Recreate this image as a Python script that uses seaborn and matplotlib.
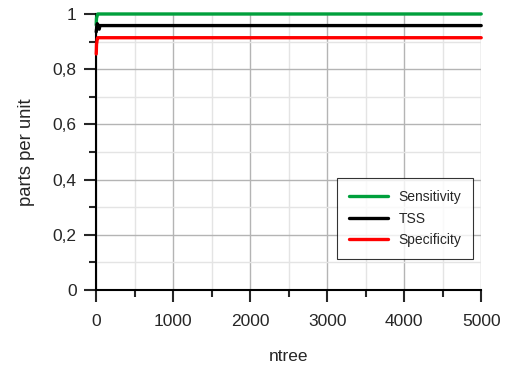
import numpy as np
import pandas as pd
import seaborn as sns
import matplotlib.pyplot as plt
from matplotlib.ticker import MultipleLocator, FuncFormatter

# values
ntree = [1, 3, 5, 10, 15, 20, 30, 40, 50, 100, 500, 1000, 2000, 3000, 4000, 5000]
sensitivity = [0.96, 0.975, 0.985, 0.99, 0.995, 1.0, 1.0, 1.0, 1.0, 1.0, 1.0, 1.0, 1.0, 1.0, 1.0, 1.0]
tss = [0.935, 0.94, 0.945, 0.95, 0.965, 0.955, 0.96, 0.945, 0.958, 0.958, 0.958, 0.958, 0.958, 0.958, 0.958, 0.958]
specificity = [0.855, 0.87, 0.89, 0.90, 0.91, 0.914, 0.914, 0.914, 0.914, 0.914, 0.914, 0.914, 0.914, 0.914, 0.914, 0.914]

series = ["Sensitivity", "TSS", "Specificity"]
colors = {"Sensitivity": "#00a03c", "TSS": "#000000", "Specificity": "#ff0000"}

df = pd.concat([
    pd.DataFrame({"ntree": ntree, "value": sensitivity, "metric": "Sensitivity"}),
    pd.DataFrame({"ntree": ntree, "value": tss, "metric": "TSS"}),
    pd.DataFrame({"ntree": ntree, "value": specificity, "metric": "Specificity"}),
])

sns.set_style("white")
plt.rcParams['font.family'] = ['Liberation Sans', 'DejaVu Sans']

fig = plt.figure(figsize=(5.06, 3.65), dpi=100)
ax = fig.add_axes([0.190, 0.2055, 0.761, 0.7562])

sns.lineplot(data=df, x="ntree", y="value", hue="metric", hue_order=series,
             palette=colors, linewidth=2.4, ax=ax, clip_on=False, zorder=3)

ax.set_xlim(0, 5000)
ax.set_ylim(0, 1)
ax.xaxis.set_major_locator(MultipleLocator(1000))
ax.xaxis.set_minor_locator(MultipleLocator(500))
ax.yaxis.set_major_locator(MultipleLocator(0.2))
ax.yaxis.set_minor_locator(MultipleLocator(0.1))
ax.yaxis.set_major_formatter(FuncFormatter(lambda v, p: ("%g" % round(v, 1)).replace(".", ",")))

ax.grid(which="major", color="#b4b4b4", linewidth=1.0)
ax.grid(which="minor", color="#e4e4e4", linewidth=1.0)
ax.set_axisbelow(True)

for side in ["top", "right"]:
    ax.spines[side].set_visible(False)
for side in ["left", "bottom"]:
    ax.spines[side].set_linewidth(1.5)
    ax.spines[side].set_color("black")

ax.tick_params(which="major", direction="out", length=8.5, width=1.5, labelsize=12.5,
               left=True, bottom=True)
ax.tick_params(axis="x", which="major", pad=8.5)
ax.tick_params(axis="y", which="major", pad=5.5)
ax.tick_params(which="minor", direction="out", length=5, width=1.5, left=True, bottom=True)

ax.set_xlabel("ntree", fontsize=12.5, labelpad=15)
ax.set_ylabel("parts per unit", fontsize=13.3, labelpad=13)

leg = ax.legend(loc="lower right", bbox_to_anchor=(0.979, 0.112), borderaxespad=0,
                fontsize=10, frameon=True, fancybox=False, handlelength=2.8,
                borderpad=0.85, labelspacing=0.55, handletextpad=0.75)
leg.get_frame().set_edgecolor("black")
leg.get_frame().set_linewidth(0.8)
for line in leg.get_lines():
    line.set_linewidth(2.4)

fig.savefig("out.png", dpi=100)
